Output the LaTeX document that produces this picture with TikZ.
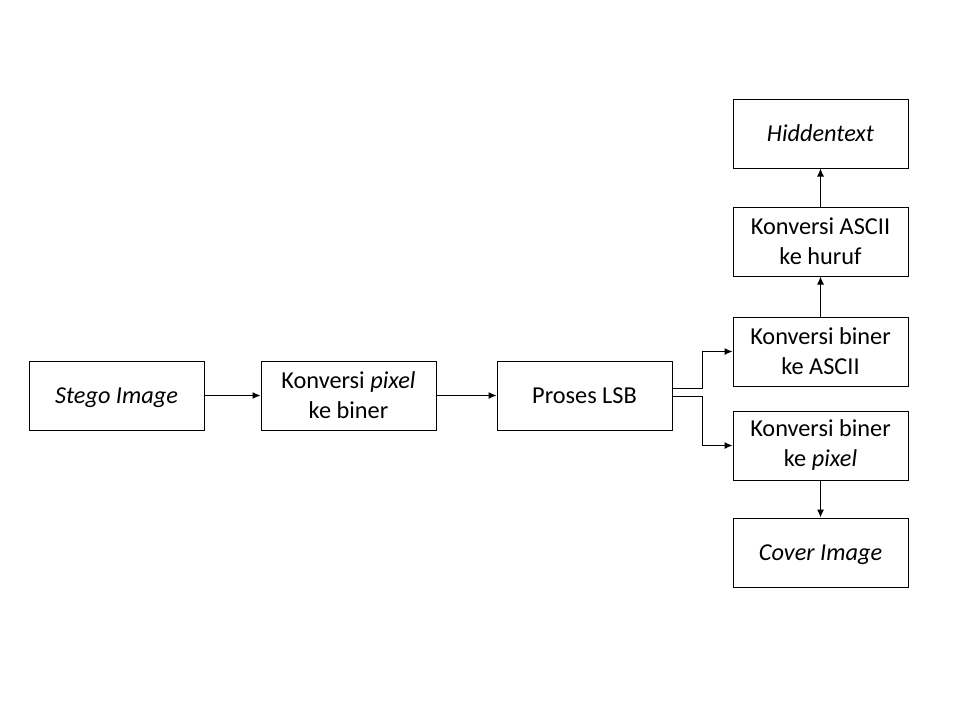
\documentclass[tikz,border=0pt]{standalone}
\usepackage{fontspec}
\setmainfont{Carlito}
\usetikzlibrary{arrows.meta}
\begin{document}
\begin{tikzpicture}[x=1pt,y=-1pt,
  box/.style={draw,line width=1pt,minimum width=175pt,minimum height=69pt,
    inner sep=0pt,align=center,font=\fontsize{24.3}{30}\selectfont},
  oneline/.style={box,text depth=0pt},
  arr/.style={line width=1pt,-{Latex[length=8pt,width=7pt]}}]
\useasboundingbox (0,0) rectangle (960,720);
\node[oneline] (stego) at (116.5,395.5) {\itshape Stego Image};
\node[box] (pix)   at (348.5,395.5) {Konversi \textit{pixel}\\ke biner};
\node[oneline] (lsb)   at (584.5,395.5) {Proses LSB};
\node[box] (ascii) at (820.5,351.5) {Konversi biner\\ke ASCII};
\node[box] (bpix)  at (820.5,445.5) {Konversi biner\\ke \textit{pixel}};
\node[box] (huruf) at (820.5,241.5) {Konversi ASCII\\ke huruf};
\node[oneline] (hid)   at (820.5,133.5) {\itshape Hiddentext};
\node[oneline] (cover) at (820.5,552.5) {\itshape Cover Image};
\draw[arr] (stego) -- (pix);
\draw[arr] (pix) -- (lsb);
\draw[arr] ([yshift=7.5pt]lsb.east) -- ++(30,0) |- (ascii.west);
\draw[arr] ([yshift=-0.5pt]lsb.east) -- ++(30,0) |- (bpix.west);
\draw[arr] (ascii) -- (huruf);
\draw[arr] (huruf) -- (hid);
\draw[arr] (bpix) -- (cover);
\end{tikzpicture}
\end{document}
